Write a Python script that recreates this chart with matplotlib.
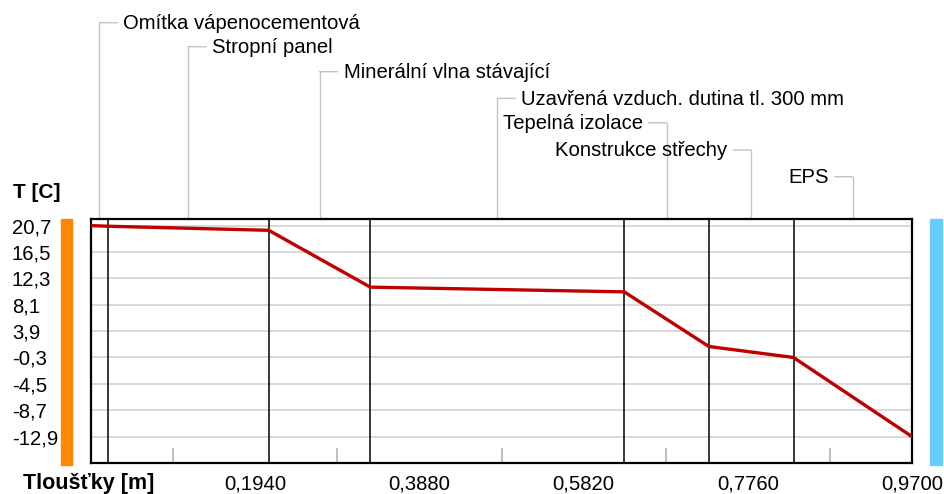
import matplotlib
matplotlib.use('agg')
from matplotlib import pyplot as plt
from matplotlib.patches import Rectangle
from matplotlib.transforms import blended_transform_factory

plt.rcParams['font.family'] = ['Liberation Sans', 'DejaVu Sans']

# layer stack, inside -> outside
layers = ['Omítka vápenocementová', 'Stropní panel', 'Minerální vlna stávající',
          'Uzavřená vzduch. dutina tl. 300 mm', 'Tepelná izolace',
          'Konstrukce střechy', 'EPS']
thickness = [0.02, 0.19, 0.12, 0.30, 0.10, 0.10, 0.14]
# temperature at each layer interface [C]
temps = [20.7, 20.6, 19.95, 10.9, 10.15, 1.45, -0.3, -12.9]
t_ticks = [20.7, 16.5, 12.3, 8.1, 3.9, -0.3, -4.5, -8.7, -12.9]
x_ticks = [0.194, 0.388, 0.582, 0.776, 0.970]
x_minor = [0.097, 0.194, 0.291, 0.388, 0.485, 0.582, 0.679, 0.776, 0.873]

bounds = [0.0]
for t in thickness:
    bounds.append(round(bounds[-1] + t, 4))
mids = [(a + b) / 2 for a, b in zip(bounds[:-1], bounds[1:])]

W, H = 945, 494
FS = 14.6
fig = plt.figure(figsize=(W / 100, H / 100), dpi=100)
ax_l, ax_r, ax_t, ax_b = 91, 912, 219, 463
ax = fig.add_axes([ax_l / W, 1 - ax_b / H, (ax_r - ax_l) / W, (ax_b - ax_t) / H])

ax.set_xlim(0, bounds[-1])
ax.set_ylim(-17.1, 21.75)

for t in t_ticks:
    ax.axhline(t, color='#d2d2d2', lw=1.2, zorder=1)
for b in bounds:
    ax.axvline(b, color='black', lw=1.1, zorder=2)
ax.plot(bounds, temps, color='#c00000', lw=2.4, zorder=3, solid_joinstyle='miter')

for s in ax.spines.values():
    s.set_linewidth(1.6)

ax.set_yticks(t_ticks)
ax.set_yticklabels([('%.1f' % t).replace('.', ',') for t in t_ticks])
ax.tick_params(axis='y', length=0, pad=57, labelsize=FS)
for lab in ax.get_yticklabels():
    lab.set_horizontalalignment('left')

ax.set_xticks(x_ticks)
ax.set_xticklabels([('%.4f' % x).replace('.', ',') for x in x_ticks])
ax.set_xticks(x_minor, minor=True)
ax.tick_params(axis='x', which='major', length=0, pad=8, labelsize=FS)
ax.tick_params(axis='x', which='minor', direction='in', length=11, width=1.2, color='#b4b4b4')

fig.text(13 / W, 1 - 193 / H, 'T [C]', fontsize=15, fontweight='bold', va='center')
fig.text(23 / W, 1 - 483 / H, 'Tloušťky [m]', fontsize=15.5, fontweight='bold', va='center')

# side bars: interior (warm) and exterior (cold)
fig.patches.append(Rectangle((61 / W, 1 - 465 / H), 11 / W, 246 / H, transform=fig.transFigure,
                             color='#ff8800', zorder=0))
fig.patches.append(Rectangle((930 / W, 1 - 465 / H), 12 / W, 246 / H, transform=fig.transFigure,
                             color='#66ccff', zorder=0))

# layer name callouts above the plot
rows = [22.7, 46.7, 71.7, 98.3, 122.7, 150, 176.7]
trans = blended_transform_factory(ax.transData, fig.transFigure)
for i, (name, xm) in enumerate(zip(layers, mids)):
    yf = 1 - rows[i] / H
    side = 1 if i < 4 else -1
    ax.plot([xm, xm], [1 - ax_t / H, yf], transform=trans, color='#c4c4c4',
            lw=1, clip_on=False)
    ax.annotate('', xy=(xm, yf), xycoords=trans, xytext=(side * 18, 0),
                textcoords='offset pixels',
                arrowprops=dict(arrowstyle='-', color='#c4c4c4', lw=1, shrinkA=0, shrinkB=0))
    ax.annotate(name, xy=(xm, yf), xycoords=trans, xytext=(side * 24, -1),
                textcoords='offset pixels', ha='left' if side > 0 else 'right',
                va='center', fontsize=FS)

fig.savefig('out.png', dpi=100)
